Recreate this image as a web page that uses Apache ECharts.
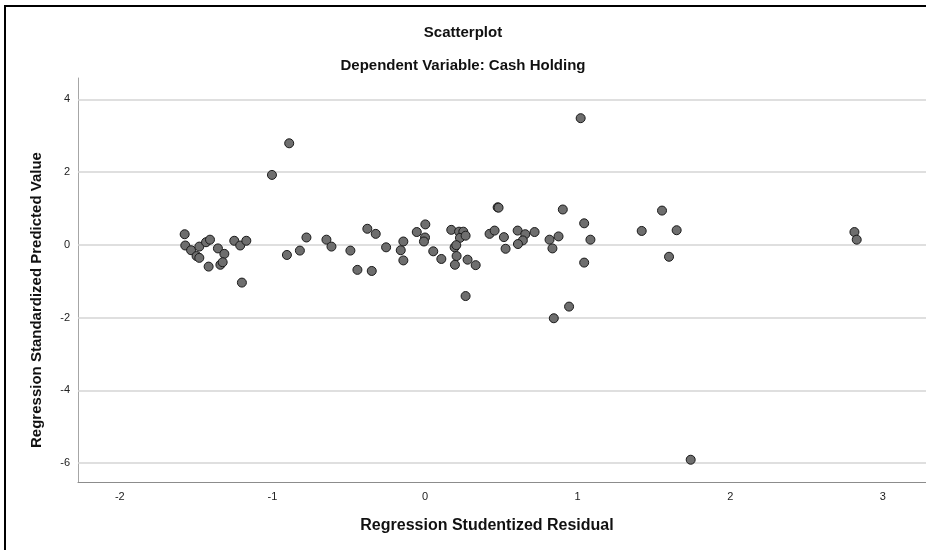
<!DOCTYPE html>
<html>
<head>
<meta charset="utf-8">
<script src="https://cdn.jsdelivr.net/npm/echarts@6/dist/echarts.min.js"></script>
<style>
html,body{margin:0;padding:0;background:#fff;}
#chart{width:926px;height:550px;}
</style>
</head>
<body>
<div id="chart"></div>
<script>
// Regression Studentized Residual (x) and Regression Standardized Predicted Value (y)
const residuals = [
  -1.003, -1.575, -1.571, -1.533, -1.497, -1.479, -1.479, -1.435, -1.409, -1.418,
  -1.357, -1.315, -1.341, -1.326, -1.250, -1.211, -1.171, -1.200, -0.905, -0.820,
  -0.777, -0.646, -0.613, -0.489, -0.443, -0.378, -0.323, -0.349, -0.255, -0.159,
  -0.142, -0.142, -0.054, 0.002, 0.000, -0.007, 0.054, 0.107, 0.172, 0.223,
  0.251, 0.229, 0.266, 0.194, 0.205, 0.207, 0.196, 0.279, 0.332, 0.266,
  0.476, 0.482, 0.423, 0.456, 0.517, 0.528, 0.607, 0.657, 0.641, 0.609,
  0.718, 0.816, 0.835, 0.875, 0.903, 1.043, 1.084, 1.043, 0.844, 0.944,
  -0.890, 1.020, 1.553, 1.420, 1.649, 1.599, 2.814, 2.829, 1.741
];
const predicted = [
  1.92, 0.29, -0.02, -0.15, -0.31, -0.36, -0.05, 0.07, 0.14, -0.60,
  -0.10, -0.25, -0.55, -0.48, 0.11, -0.02, 0.11, -1.04, -0.28, -0.16,
  0.20, 0.14, -0.05, -0.16, -0.69, 0.44, 0.30, -0.72, -0.07, -0.15,
  0.09, -0.43, 0.35, 0.56, 0.20, 0.09, -0.18, -0.39, 0.41, 0.36,
  0.36, 0.19, 0.25, -0.07, -0.01, -0.31, -0.55, -0.41, -0.56, -1.41,
  1.03, 1.02, 0.30, 0.39, 0.21, -0.11, 0.39, 0.29, 0.12, 0.02,
  0.35, 0.14, -0.10, 0.23, 0.97, 0.59, 0.14, -0.49, -2.02, -1.70,
  2.79, 3.48, 0.94, 0.38, 0.40, -0.33, 0.35, 0.14, -5.91
];
const xTicks = [-2, -1, 0, 1, 2, 3];
const yTicks = [4, 2, 0, -2, -4, -6];
const xRange = [-2.274, 3.283];
const yRange = [-6.522, 4.585];

const points = residuals.map((x, i) => [x, predicted[i]]);
const font = 'Liberation Sans, Arial, sans-serif';

const chart = echarts.init(document.getElementById('chart'), null, {renderer: 'canvas'});
chart.setOption({
  animation: false,
  backgroundColor: '#fff',
  grid: {left: 78, top: 78, right: 0, bottom: 68, containLabel: false},
  xAxis: {
    type: 'value', min: xRange[0], max: xRange[1],
    axisLine: {show: true, onZero: false, lineStyle: {color: '#8c8c8c', width: 1}},
    axisTick: {show: false},
    splitLine: {show: false},
    axisLabel: {customValues: xTicks, color: '#222', fontFamily: font, fontSize: 11, margin: 9}
  },
  yAxis: {
    type: 'value', min: yRange[0], max: yRange[1],
    axisLine: {show: true, onZero: false, lineStyle: {color: '#a6a6a6', width: 1}},
    axisTick: {show: false},
    splitLine: {show: false},
    axisLabel: {customValues: yTicks, color: '#222', fontFamily: font, fontSize: 11, margin: 8}
  },
  series: [
    {
      type: 'scatter', data: [], z: 1, silent: true,
      markLine: {
        silent: true, symbol: ['none', 'none'], z: 1,
        label: {show: false},
        lineStyle: {type: 'solid', color: '#d4d4d4', width: 1.5},
        data: yTicks.map(v => ({yAxis: v}))
      }
    },
    {
      type: 'scatter', data: points, z: 10,
      symbol: 'circle', symbolSize: 9,
      itemStyle: {color: '#6e6e6e', borderColor: '#1a1a1a', borderWidth: 1, opacity: 1}
    }
  ],
  graphic: [
    {type: 'rect', left: 4, top: 5, shape: {width: 2, height: 545}, style: {fill: '#000'}},
    {type: 'rect', left: 4, top: 5, shape: {width: 922, height: 2}, style: {fill: '#000'}},
    {type: 'text', x: 463, y: 33, style: {text: 'Scatterplot', font: 'bold 15px ' + font, fill: '#111', align: 'center', verticalAlign: 'middle'}},
    {type: 'text', x: 463, y: 66, style: {text: 'Dependent Variable: Cash Holding', font: 'bold 15px ' + font, fill: '#111', align: 'center', verticalAlign: 'middle'}},
    {type: 'text', x: 487, y: 526, style: {text: 'Regression Studentized Residual', font: 'bold 16px ' + font, fill: '#111', align: 'center', verticalAlign: 'middle'}},
    {type: 'text', x: 37, y: 300, rotation: Math.PI / 2, style: {text: 'Regression Standardized Predicted Value', font: 'bold 15px ' + font, fill: '#111', align: 'center', verticalAlign: 'middle'}}
  ]
});
</script>
</body>
</html>
